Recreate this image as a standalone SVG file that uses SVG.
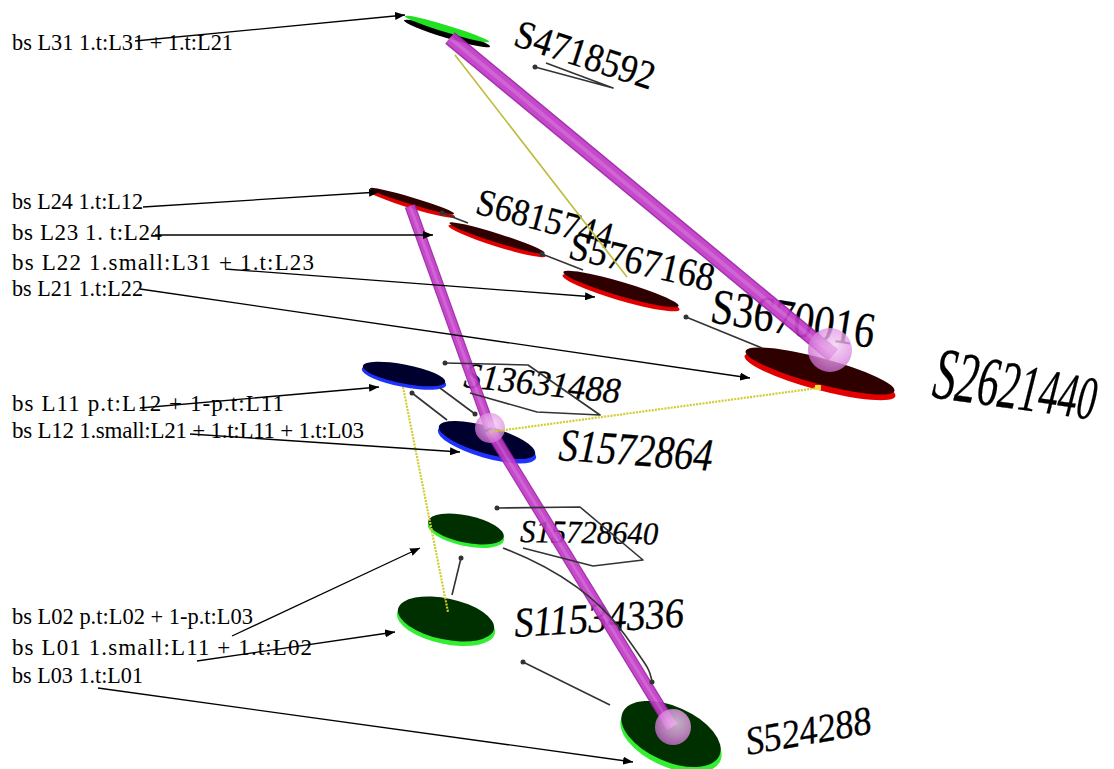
<svg xmlns="http://www.w3.org/2000/svg" xmlns:xlink="http://www.w3.org/1999/xlink" width="1114" height="769" viewBox="0 0 1114 769">
  <style>
    .lbl{font-family:"Liberation Serif","Times New Roman",serif;font-size:23px;fill:#000}
    .nm{font-family:"Liberation Serif","Times New Roman",serif;fill:#000;stroke:#000;stroke-width:0.3}
    .it{font-style:italic}
    .topR{fill:#2e0000}.rimR{fill:#e30000}
    .topB{fill:#00002e}.rimB{fill:#1f33ff}
    .topG{fill:#003000}.rimG{fill:#33ee33}
    .arrow{stroke:#000;stroke-width:1.3;fill:none;marker-end:url(#ah)}
    .ptr{stroke:#333;stroke-width:1.6;fill:none;stroke-linejoin:round}
    .dot{fill:#333}
    .yel{stroke:#bdbb3a;stroke-width:1.6}
    .yeld{stroke:#d2cc2c;stroke-width:2.2;stroke-dasharray:2 1.2}
    .t0{stroke:#9c22a4;fill:none}
    .t1{stroke:#c23ac8;fill:none}
    .t2{stroke:#cc58d0;fill:none}
    .sph{fill:url(#sphg);opacity:0.8}
  </style>
  <defs>
    <marker id="ah" viewBox="0 0 10 8" refX="10" refY="4" markerWidth="10" markerHeight="8" markerUnits="userSpaceOnUse" orient="auto">
      <path d="M0,0 L10,4 L0,8 z" fill="#000"/>
    </marker>
    <radialGradient id="sphg" cx="0.6" cy="0.38" r="0.65">
      <stop offset="0" stop-color="#f4d0f4"/>
      <stop offset="0.55" stop-color="#e49ce6"/>
      <stop offset="1" stop-color="#c866cc"/>
    </radialGradient>
    <path id="tubeA" d="M450,38 L833,355"/>
    <path id="tubeB1" d="M410,206 L490,428"/>
    <path id="tubeB2" d="M490,430 L672,727"/>
  </defs>

  <rect width="1114" height="769" fill="#fff"/>

  <!-- level 3 -->
  <g id="n-S4718592">
    <g transform="translate(447,30)">
      <ellipse rx="45" ry="4.5" fill="#000" transform="translate(0,3.5) rotate(17)"/>
      <ellipse rx="44" ry="3.5" fill="#22e022" transform="translate(0,-1) rotate(17)"/>
    </g>
    <text class="nm" font-size="40" textLength="145" lengthAdjust="spacingAndGlyphs" transform="translate(512,45) rotate(18)">S4718592</text>
  </g>

  <!-- level 2 -->
  <g id="n-S6815744">
    <g transform="translate(412,201)">
      <ellipse class="rimR" rx="45" ry="4.5" transform="translate(0,3) rotate(16.8)"/>
      <ellipse class="topR" rx="44" ry="3.5" transform="rotate(16.8)"/>
    </g>
    <text class="nm" font-size="38" textLength="140" lengthAdjust="spacingAndGlyphs" transform="translate(474,213) rotate(15)">S6815744</text>
  </g>
  <g id="n-S5767168">
    <g transform="translate(497,238)">
      <ellipse class="rimR" rx="51" ry="5.5" transform="translate(0,3) rotate(17.5)"/>
      <ellipse class="topR" rx="50" ry="4.5" transform="rotate(17.5)"/>
    </g>
    <text class="nm" font-size="40" textLength="148" lengthAdjust="spacingAndGlyphs" transform="translate(567,258) rotate(13)">S5767168</text>
  </g>
  <g id="n-S3670016">
    <g transform="translate(621,289)">
      <ellipse class="rimR" rx="61" ry="8" transform="translate(0,3.5) rotate(16.4)"/>
      <ellipse class="topR" rx="60" ry="7" transform="rotate(16.4)"/>
    </g>
    <text class="nm" font-size="50" textLength="165" lengthAdjust="spacingAndGlyphs" transform="translate(709,322) rotate(9)">S3670016</text>
  </g>
  <g id="n-S2621440">
    <g transform="translate(820,371)">
      <ellipse class="rimR" rx="78" ry="14" transform="translate(0,5) rotate(15)"/>
      <ellipse class="topR" rx="77" ry="13" transform="rotate(15)"/>
    </g>
    <text class="nm it" textLength="164" lengthAdjust="spacingAndGlyphs" transform="translate(931,397) rotate(8)"><tspan font-size="74">S</tspan><tspan font-size="72">2</tspan><tspan font-size="70">6</tspan><tspan font-size="68">2</tspan><tspan font-size="66">1</tspan><tspan font-size="64">4</tspan><tspan font-size="63">4</tspan><tspan font-size="62">0</tspan></text>
  </g>

  <!-- level 1 -->
  <g id="n-S13631488">
    <g transform="translate(404,374)">
      <ellipse class="rimB" rx="43" ry="10" transform="translate(0,3) rotate(11)"/>
      <ellipse class="topB" rx="42" ry="9.5" transform="rotate(11)"/>
    </g>
    <text class="nm it" font-size="36" textLength="157" lengthAdjust="spacingAndGlyphs" transform="translate(463,387) rotate(6)">S13631488</text>
  </g>
  <g id="n-S1572864">
    <g transform="translate(487,440)">
      <ellipse class="rimB" rx="51" ry="14" transform="translate(0,4) rotate(16)"/>
      <ellipse class="topB" rx="50" ry="13.5" transform="rotate(16)"/>
    </g>
    <text class="nm it" font-size="46" textLength="154" lengthAdjust="spacingAndGlyphs" transform="translate(558,460) rotate(4)">S1572864</text>
  </g>

  <!-- level 0 -->
  <g id="n-S15728640">
    <g transform="translate(466,529)">
      <ellipse class="rimG" rx="39" ry="14" transform="translate(0,3) rotate(12)"/>
      <ellipse class="topG" rx="38.5" ry="13.5" transform="rotate(12)"/>
    </g>
    <text class="nm it" font-size="32" textLength="138" lengthAdjust="spacingAndGlyphs" transform="translate(520,542) rotate(1)">S15728640</text>
  </g>
  <g id="n-S11534336">
    <g transform="translate(446,619)">
      <ellipse class="rimG" rx="50" ry="21" transform="translate(0,4) rotate(12)"/>
      <ellipse class="topG" rx="49" ry="20.5" transform="rotate(12)"/>
    </g>
    <text class="nm it" font-size="42" textLength="170" lengthAdjust="spacingAndGlyphs" transform="translate(515,637) rotate(-3.5)">S11534336</text>
  </g>
  <g id="n-S524288">
    <g transform="translate(671,734)">
      <ellipse class="rimG" rx="54" ry="28" transform="translate(0,5) rotate(24)"/>
      <ellipse class="topG" rx="53" ry="27.5" transform="rotate(24)"/>
    </g>
    <text class="nm it" font-size="40" textLength="127" lengthAdjust="spacingAndGlyphs" transform="translate(748,755) rotate(-10)">S524288</text>
  </g>

  <!-- equation labels -->
  <g id="labels">
    <text class="lbl" x="12" y="50" textLength="221" lengthAdjust="spacingAndGlyphs">bs L31 1.t:L31 + 1.t:L21</text>
    <text class="lbl" x="12" y="209" textLength="131" lengthAdjust="spacingAndGlyphs">bs L24 1.t:L12</text>
    <text class="lbl" x="12" y="240" textLength="150">bs L23 1. t:L24</text>
    <text class="lbl" x="12" y="270" textLength="302">bs L22 1.small:L31 + 1.t:L23</text>
    <text class="lbl" x="12" y="296" textLength="131" lengthAdjust="spacingAndGlyphs">bs L21 1.t:L22</text>
    <text class="lbl" x="12" y="411" textLength="272">bs L11 p.t:L12 + 1-p.t:L11</text>
    <text class="lbl" x="12" y="438" textLength="352">bs L12 1.small:L21 + 1.t:L11 + 1.t:L03</text>
    <text class="lbl" x="12" y="624" textLength="241" lengthAdjust="spacingAndGlyphs">bs L02 p.t:L02 + 1-p.t:L03</text>
    <text class="lbl" x="12" y="655" textLength="300">bs L01 1.small:L11 + 1.t:L02</text>
    <text class="lbl" x="12" y="683" textLength="131" lengthAdjust="spacingAndGlyphs">bs L03 1.t:L01</text>
  </g>

  <g id="connectors">
    <!-- tubes between levels -->
    <g opacity="0.92">
      <use xlink:href="#tubeA" class="t0" stroke-width="15"/>
      <use xlink:href="#tubeA" class="t1" stroke-width="12"/>
      <use xlink:href="#tubeA" class="t2" stroke-width="4"/>
    </g>
    <g opacity="0.92">
      <use xlink:href="#tubeB1" class="t0" stroke-width="11"/>
      <use xlink:href="#tubeB1" class="t1" stroke-width="8.5"/>
      <use xlink:href="#tubeB1" class="t2" stroke-width="3"/>
    </g>
    <g opacity="0.92">
      <use xlink:href="#tubeB2" class="t0" stroke-width="12"/>
      <use xlink:href="#tubeB2" class="t1" stroke-width="9.5"/>
      <use xlink:href="#tubeB2" class="t2" stroke-width="3"/>
    </g>
    <circle class="sph" cx="830" cy="350" r="22"/>
    <circle class="sph" cx="490" cy="428" r="15"/>
    <circle class="sph" cx="673" cy="727" r="18"/>

    <!-- yellow links -->
    <line class="yel" x1="455" y1="55" x2="627" y2="277"/>
    <line class="yeld" x1="490" y1="432" x2="818" y2="388"/>
    <rect x="815" y="385" width="6" height="5" fill="#e8e040"/>
    <line class="yeld" x1="403" y1="387" x2="448" y2="612"/>

    <!-- pointer lines -->
    <path class="ptr" d="M535,67 L613,88 L546,63"/>
    <path class="ptr" d="M442,213 L468,223"/>
    <path class="ptr" d="M542,254 L583,270"/>
    <path class="ptr" d="M686,317 L762,348"/>
    <path class="ptr" d="M445,363 L528,365 L600,415 L537,412 L470,393"/>
    <path class="ptr" d="M497,508 L580,507 L643,560 L593,566 L523,548"/>
    <path class="ptr" d="M503,548 C560,570 600,600 625,635 S650,670 652,682"/>
    <path class="ptr" d="M461,558 L452,595"/>
    <path class="ptr" d="M523,662 L610,705"/>
    <path class="ptr" d="M440,388 L475,414"/>
    <path class="ptr" d="M412,393 L447,420"/>
    <circle class="dot" cx="535" cy="67" r="2.5"/>
    <circle class="dot" cx="442" cy="213" r="2.5"/>
    <circle class="dot" cx="542" cy="254" r="2.5"/>
    <circle class="dot" cx="686" cy="317" r="2.5"/>
    <circle class="dot" cx="445" cy="363" r="2.5"/>
    <circle class="dot" cx="497" cy="508" r="2.5"/>
    <circle class="dot" cx="652" cy="682" r="2.5"/>
    <circle class="dot" cx="461" cy="558" r="2.5"/>
    <circle class="dot" cx="523" cy="662" r="2.5"/>
    <circle class="dot" cx="475" cy="414" r="2.5"/>
    <circle class="dot" cx="412" cy="393" r="2.5"/>

    <!-- label arrows -->
    <path class="arrow" d="M135,41 L405,15"/>
    <path class="arrow" d="M143,207 L379,192"/>
    <path class="arrow" d="M155,235 L433,235"/>
    <path class="arrow" d="M225,269 L595,297"/>
    <path class="arrow" d="M140,289 L750,378"/>
    <path class="arrow" d="M140,408 L379,387"/>
    <path class="arrow" d="M190,434 L460,452"/>
    <path class="arrow" d="M232,636 L420,548"/>
    <path class="arrow" d="M197,661 L395,632"/>
    <path class="arrow" d="M98,688 L633,762"/>
  </g>
</svg>
